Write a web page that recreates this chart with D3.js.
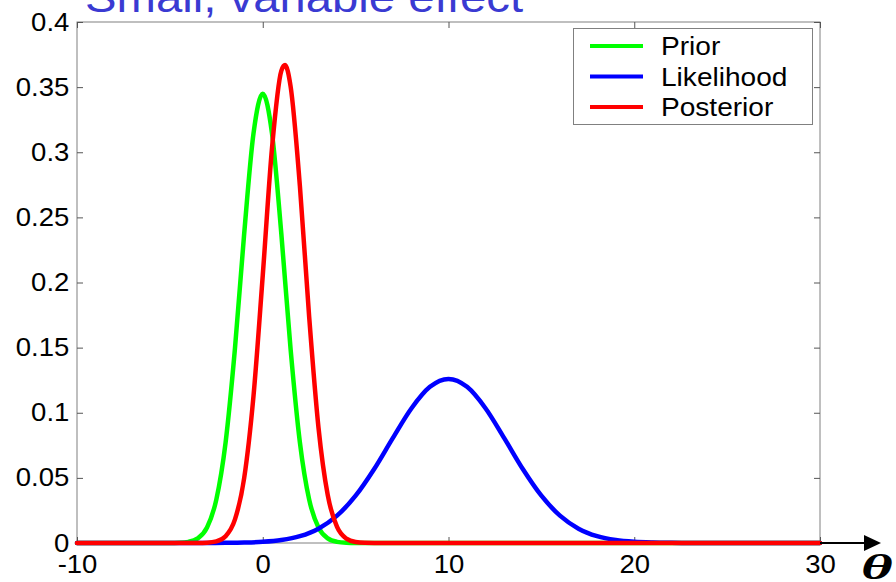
<!DOCTYPE html>
<html><head><meta charset="utf-8">
<script src="https://cdn.jsdelivr.net/npm/d3@7"></script>
<style>body{margin:0;background:#fff}svg{display:block}</style>
</head><body>
<script>
// ---- data ----
const titleText = "Small, variable effect";
const xTicks = [-10, 0, 10, 20, 30];
const xTickLabels = ["-10", "0", "10", "20", "30"];
const yTicks = [0, 0.05, 0.1, 0.15, 0.2, 0.25, 0.3, 0.35, 0.4];
const yTickLabels = ["0", "0.05", "0.1", "0.15", "0.2", "0.25", "0.3", "0.35", "0.4"];
const seriesNames = ["Prior", "Likelihood", "Posterior"];

const priorX = [-10, -5, -4.5, -4, -3.5, -3, -2.5, -2, -1.5, -1, -0.5, 0, 0.5, 1, 1.5, 2, 2.5, 3, 3.5, 4, 4.5, 5, 30];
const priorY = [0, 0.00003, 0.00018, 0.00087, 0.00353, 0.0119, 0.0333, 0.0772, 0.1487, 0.2374, 0.3142, 0.345, 0.3142, 0.2374, 0.1487, 0.0772, 0.0333, 0.0119, 0.00353, 0.00087, 0.00018, 0.00003, 0];

const likX = [-10, -3, -2, -1, 0, 1, 2, 3, 4, 5, 6, 7, 8, 9, 10, 11, 12, 13, 14, 15, 16, 17, 18, 19, 20, 21, 22, 23, 30];
const likY = [0, 0.00003, 0.0001, 0.00031, 0.00087, 0.00224, 0.00522, 0.0110, 0.0210, 0.0363, 0.0568, 0.0805, 0.1033, 0.1199, 0.126, 0.1199, 0.1033, 0.0805, 0.0568, 0.0363, 0.0210, 0.0110, 0.00522, 0.00224, 0.00087, 0.00031, 0.0001, 0.00003, 0];

const postX = [-10, -3.5, -3, -2.5, -2, -1.5, -1, -0.5, 0, 0.5, 1, 1.2, 1.5, 2, 2.5, 3, 3.5, 4, 4.5, 5, 5.5, 6, 30];
const postY = [0, 0.00004, 0.00023, 0.00122, 0.00518, 0.0179, 0.0499, 0.1126, 0.2054, 0.3034, 0.3625, 0.3669, 0.3505, 0.2740, 0.1734, 0.0887, 0.0367, 0.0123, 0.00334, 0.00073, 0.00013, 0.00002, 0];

const seriesColors = ["#00ff00", "#0000ff", "#ff0000"];

// ---- chart ----
const W = 896, H = 582;
const L = 77, R = 820, T = 22, B = 543;
const svg = d3.select("body").append("svg").attr("width", W).attr("height", H)
  .style("font-family", "'Liberation Sans', Arial, sans-serif");

const x = d3.scaleLinear().domain([-10, 30]).range([L, R]);
const y = d3.scaleLinear().domain([0, 0.4]).range([B, T]);

const axisColor = "#808080";

// box
svg.append("rect").attr("x", L).attr("y", T).attr("width", R - L).attr("height", B - T)
  .attr("fill", "none").attr("stroke", axisColor).attr("stroke-width", 1);

function styleAxis(g) {
  g.select(".domain").remove();
  g.selectAll(".tick line").attr("stroke", "#555");
}

// bottom
const gx = svg.append("g").attr("transform", `translate(0,${B})`)
  .call(d3.axisBottom(x).tickValues(xTicks).tickFormat((d, i) => xTickLabels[i])
    .tickSizeInner(-6).tickSizeOuter(0).tickPadding(12));
styleAxis(gx);
gx.selectAll("text").attr("font-size", 25).attr("fill", "#000")
  .attr("font-family", "'Liberation Sans', Arial, sans-serif").attr("transform", "scale(1.1,1)");

// top
const gxt = svg.append("g").attr("transform", `translate(0,${T})`)
  .call(d3.axisTop(x).tickValues(xTicks).tickFormat("").tickSizeInner(-6).tickSizeOuter(0));
styleAxis(gxt);

// left
const gy = svg.append("g").attr("transform", `translate(${L},0)`)
  .call(d3.axisLeft(y).tickValues(yTicks).tickFormat((d, i) => yTickLabels[i])
    .tickSizeInner(-6).tickSizeOuter(0).tickPadding(7));
styleAxis(gy);
gy.selectAll("text").attr("font-size", 25).attr("fill", "#000")
  .attr("font-family", "'Liberation Sans', Arial, sans-serif").attr("transform", "scale(1.1,1)");

// right
const gyr = svg.append("g").attr("transform", `translate(${R},0)`)
  .call(d3.axisRight(y).tickValues(yTicks).tickFormat("").tickSizeInner(-6).tickSizeOuter(0));
styleAxis(gyr);

// curves
const line = d3.line().x(d => x(d[0])).y(d => y(d[1])).curve(d3.curveMonotoneX);
const series = [
  d3.zip(priorX, priorY),
  d3.zip(likX, likY),
  d3.zip(postX, postY)
];
series.forEach((s, i) => {
  svg.append("path").datum(s).attr("d", line)
    .attr("fill", "none").attr("stroke", seriesColors[i]).attr("stroke-width", 4.5)
    .attr("stroke-linejoin", "round").attr("stroke-linecap", "round");
});

// legend
const lg = svg.append("g");
lg.append("rect").attr("x", 573.5).attr("y", 28.5).attr("width", 239).attr("height", 96)
  .attr("fill", "#fff").attr("stroke", axisColor).attr("stroke-width", 1);
const rowY = [46, 76.5, 107];
seriesNames.forEach((n, i) => {
  lg.append("line").attr("x1", 590).attr("x2", 643).attr("y1", rowY[i]).attr("y2", rowY[i])
    .attr("stroke", seriesColors[i]).attr("stroke-width", 4);
  lg.append("text").attr("transform", `translate(661,${rowY[i] + 9}) scale(1.08,1)`)
    .attr("font-size", 26).attr("fill", "#000").text(n);
});

// title
svg.append("text").attr("transform", "translate(85,12) scale(1.1,1)")
  .attr("font-size", 43).attr("fill", "#3a3ad2").text(titleText);

// theta axis arrow
svg.append("line").attr("x1", R).attr("x2", 868).attr("y1", B).attr("y2", B)
  .attr("stroke", "#000").attr("stroke-width", 2);
svg.append("path")
  .attr("d", `M${864},${B - 8} L${881},${B} L${864},${B + 8} Z`).attr("fill", "#000");
svg.append("text").attr("transform", "translate(861,579) scale(1.7,1)")
  .attr("font-family", "'Liberation Serif', 'Times New Roman', serif")
  .attr("font-style", "italic").attr("font-weight", "bold")
  .attr("font-size", 36).attr("fill", "#000").text("θ");
</script>
</body></html>
